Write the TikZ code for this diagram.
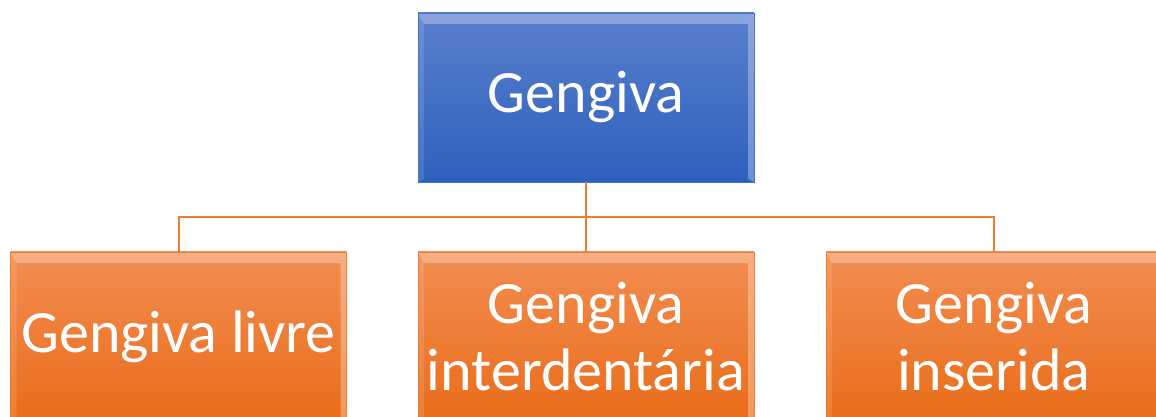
\documentclass[tikz,border=0pt]{standalone}
\usepackage{fontspec}
\setmainfont{Carlito}
\definecolor{azulclaro}{HTML}{5A80CD}
\definecolor{azulescuro}{HTML}{2D60BD}
\definecolor{azulborda}{HTML}{4472C4}
\definecolor{laranjaclaro}{HTML}{F28D52}
\definecolor{laranjaescuro}{HTML}{E96D1A}
\definecolor{laranjaborda}{HTML}{ED7D31}
\definecolor{linha}{HTML}{ED7D31}
\tikzset{
	caixa/.style={rectangle, minimum width=336pt, minimum height=169pt,
		inner sep=0pt, text=white, align=center,
		font=\fontsize{60}{67}\selectfont, line width=0.8pt, bisel},
	azul/.style={caixa, top color=azulclaro, bottom color=azulescuro, draw=azulborda},
	laranja/.style={caixa, top color=laranjaclaro, bottom color=laranjaescuro, draw=laranjaborda},
	conector/.style={draw=linha, line width=2.5pt},
	bisel/.style={path picture={
		\fill[white,opacity=0.3] (path picture bounding box.north west)
			-- (path picture bounding box.north east)
			-- ([xshift=-6pt,yshift=-11pt]path picture bounding box.north east)
			-- ([xshift=6pt,yshift=-11pt]path picture bounding box.north west) -- cycle;
		\fill[white,opacity=0.12] (path picture bounding box.north west)
			-- ([xshift=6pt,yshift=-11pt]path picture bounding box.north west)
			-- ([xshift=6pt,yshift=3pt]path picture bounding box.south west)
			-- (path picture bounding box.south west) -- cycle;
		\fill[white,opacity=0.3] (path picture bounding box.north east)
			-- ([xshift=-6pt,yshift=-11pt]path picture bounding box.north east)
			-- ([xshift=-6pt,yshift=3pt]path picture bounding box.south east)
			-- (path picture bounding box.south east) -- cycle;
	}},
}
\begin{document}
\begin{tikzpicture}[x=1pt,y=1pt]
	\useasboundingbox (0,0) rectangle (1156,417);
	\clip (0,0) rectangle (1156,417);

	\node[azul] (gengiva) at (586,319.5) {Gengiva};

	\node[laranja] (livre) at (178.5,80.5) {Gengiva livre};
	\node[laranja] (inter) at (586,80.5) {Gengiva\\interdentária};
	\node[laranja] (inserida) at (994,80.5) {Gengiva\\inserida};

	\coordinate (juncao) at (586,200);

	\draw[conector] (gengiva.south) -- (inter.north);
	\draw[conector, line width=2pt] (livre.north) |- (juncao) -| (inserida.north);
\end{tikzpicture}
\end{document}
